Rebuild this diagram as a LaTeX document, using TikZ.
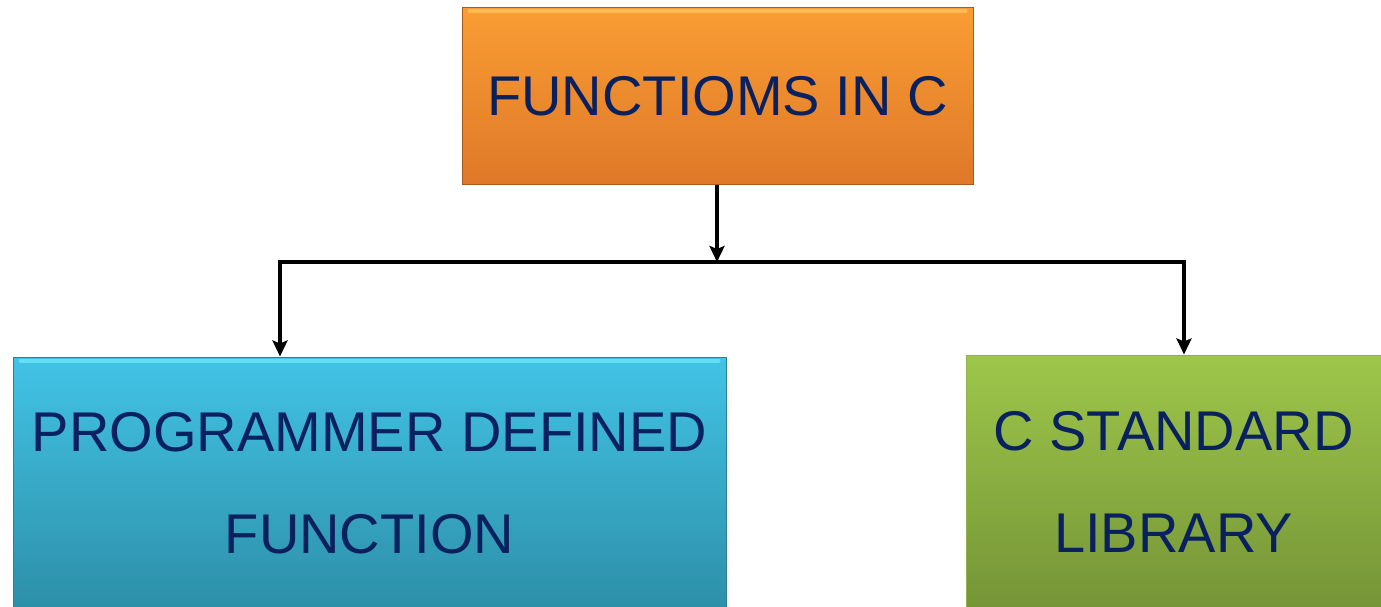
\documentclass[tikz,border=0pt]{standalone}
\usepackage{fontspec}
\setmainfont{Liberation Sans}
\usetikzlibrary{arrows.meta,calc}
\definecolor{txtblue}{HTML}{0A2160}
\definecolor{orgtop}{HTML}{F99D33}
\definecolor{orgbot}{HTML}{DF7829}
\definecolor{orgedge}{HTML}{A85A1E}
\definecolor{orghi}{HTML}{FBC35E}
\definecolor{blutop}{HTML}{42C3E6}
\definecolor{blubot}{HTML}{2D8FA8}
\definecolor{bluedge}{HTML}{2A8098}
\definecolor{bluhi}{HTML}{6CE6F8}
\definecolor{grntop}{HTML}{9EC64A}
\definecolor{grnbot}{HTML}{759437}
\definecolor{grnedge}{HTML}{8FB447}
\tikzset{
  box/.style={rectangle, inner sep=0pt, text=txtblue, align=center,
    font=\fontsize{56}{102}\selectfont},
  conn/.style={line width=4pt, black},
  arr/.style={conn, -{Stealth[length=16pt,width=15pt,inset=3pt]}},
  hilite/.style={line width=4pt, line cap=round, opacity=0.8}
}
\begin{document}
\begin{tikzpicture}[x=1pt,y=-1pt]
\useasboundingbox (0,0) rectangle (1381,607);
\node[box, minimum width=511pt, minimum height=176pt, top color=orgtop, bottom color=orgbot, draw=orgedge, line width=1pt]
  (top) at (717.5,96) {FUNCTIOMS IN C};
\node[box, minimum width=713pt, minimum height=252pt, top color=blutop, bottom color=blubot, draw=bluedge, line width=1pt]
  (left) at (369.5,483) {PROGRAMMER DEFINED\\FUNCTION};
\node[box, minimum width=415pt, minimum height=254pt, top color=grntop, bottom color=grnbot, draw=grnedge, line width=1pt]
  (right) at (1173.5,482) {C STANDARD\\LIBRARY};
\draw[hilite, orghi] ($(top.north west)+(8,4)$) -- ($(top.north east)+(-8,4)$);
\draw[hilite, bluhi] ($(left.north west)+(8,4)$) -- ($(left.north east)+(-8,4)$);
\coordinate (j) at (717,262);
\coordinate (lc) at (280,262);
\coordinate (rc) at (1184,262);
\draw[arr] (top.south -| j) -- (j);
\draw[conn] ($(lc)+(-2,0)$) -- ($(rc)+(2,0)$);
\draw[arr] (lc) -- (lc |- left.north);
\draw[arr] (rc) -- (rc |- right.north);
\end{tikzpicture}
\end{document}
